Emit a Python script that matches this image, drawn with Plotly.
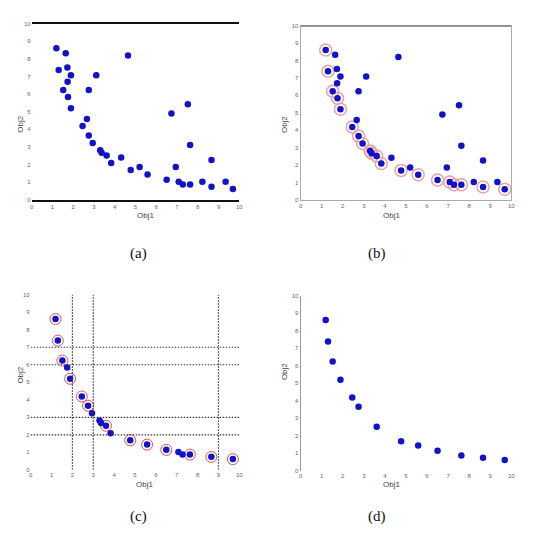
import plotly.graph_objects as go

obj1 = [1.19, 1.64, 1.30, 1.72, 1.89, 1.73, 1.52, 1.75, 1.89, 2.75, 3.11, 4.64, 2.66,
        2.45, 2.75, 2.94, 3.30, 3.37, 3.61, 3.83, 4.31, 4.77, 5.20, 5.58, 6.50, 6.73,
        6.94, 7.08, 7.28, 7.52, 7.63, 7.63, 8.22, 8.66, 8.66, 9.34, 9.69]
obj2 = [8.61, 8.33, 7.38, 7.51, 7.08, 6.70, 6.24, 5.84, 5.20, 6.24, 7.08, 8.20, 4.59,
        4.19, 3.66, 3.23, 2.81, 2.68, 2.52, 2.09, 2.41, 1.69, 1.86, 1.44, 1.14, 4.90,
        1.86, 1.02, 0.87, 5.43, 0.87, 3.11, 1.02, 2.26, 0.74, 1.02, 0.61]

# Non-dominated set (circled in b, plotted in c)
pareto_idx = [0, 2, 6, 7, 8, 13, 14, 15, 16, 17, 18, 19, 21, 23, 24, 27, 28, 30, 34, 36]
# Selected subset (circled in c, plotted in d)
select_idx = [0, 2, 6, 8, 13, 14, 18, 21, 23, 24, 30, 34, 36]

# dotted reference lines in panel (c)
c_vlines = [2, 3, 9]
c_hlines = [7, 6, 3, 2]

ticks = list(range(0, 11))
panel_labels = ["(a)", "(b)", "(c)", "(d)"]

W, H = 539, 545
def px(x):
    return x / W
def py(y):
    return 1 - y / H

fig = go.Figure()

BLUE = "#1212c8"
mk = dict(color=BLUE, size=6.5, line=dict(width=0))

# (a)
fig.add_trace(go.Scatter(x=obj1, y=obj2, mode="markers", marker=mk, xaxis="x", yaxis="y"))
# (b)
px_ = [obj1[i] for i in pareto_idx]
py_ = [obj2[i] for i in pareto_idx]
fig.add_trace(go.Scatter(x=px_, y=py_, mode="markers", xaxis="x2", yaxis="y2",
                         marker=dict(symbol="circle-open", size=12, color="#e7a3a8",
                                     line=dict(width=1.5, color="#e7a3a8"))))
fig.add_trace(go.Scatter(x=obj1, y=obj2, mode="markers", marker=mk, xaxis="x2", yaxis="y2"))
# (c)
sx = [obj1[i] for i in select_idx]
sy = [obj2[i] for i in select_idx]
fig.add_trace(go.Scatter(x=sx, y=sy, mode="markers", xaxis="x3", yaxis="y3",
                         marker=dict(symbol="circle-open", size=11, color="#e05050",
                                     line=dict(width=1, color="#e05050"))))
fig.add_trace(go.Scatter(x=px_, y=py_, mode="markers", marker=mk, xaxis="x3", yaxis="y3"))
# (d)
fig.add_trace(go.Scatter(x=sx, y=sy, mode="markers", marker=mk, xaxis="x4", yaxis="y4"))

tickfont = dict(family="Liberation Sans, Arial", size=6, color="#666666")

def xax(domain, anchor, showline=False, color="#888888", width=1, mirror=False):
    return dict(domain=domain, anchor=anchor, range=[0, 10], tickvals=ticks,
                showgrid=False, zeroline=False, showline=showline, linecolor=color,
                linewidth=width, mirror=mirror, tickfont=tickfont, ticks="",
                ticklen=0)

def yax(domain, anchor, showline=False, color="#888888", width=1, mirror=False):
    return dict(domain=domain, anchor=anchor, range=[0, 10], tickvals=ticks,
                showgrid=False, zeroline=False, showline=showline, linecolor=color,
                linewidth=width, mirror=mirror, tickfont=tickfont, ticks="",
                ticklen=0)

dom_a = ([px(30), px(240)], [py(199), py(21)])
dom_b = ([px(302), px(515)], [py(199), py(23)])
dom_c = ([px(29), px(240)], [py(472), py(295)])
dom_d = ([px(302), px(515)], [py(473), py(296)])

fig.update_layout(
    width=W, height=H, margin=dict(l=0, r=0, t=0, b=0),
    paper_bgcolor="white", plot_bgcolor="white", showlegend=False,
    xaxis=xax(dom_a[0], "y", showline=True, color="#111111", width=2, mirror=True),
    yaxis=yax(dom_a[1], "x"),
    xaxis2=xax(dom_b[0], "y2", showline=True, color="#aaaaaa", mirror=True),
    yaxis2=yax(dom_b[1], "x2", showline=True, color="#aaaaaa", mirror=True),
    xaxis3=xax(dom_c[0], "y3"),
    yaxis3=yax(dom_c[1], "x3"),
    xaxis4=xax(dom_d[0], "y4"),
    yaxis4=yax(dom_d[1], "x4", showline=True, color="#999999"),
)

shapes = []
# black top edge in (b)
shapes.append(dict(type="line", xref="x2", yref="y2", x0=0, x1=10, y0=10, y1=10,
                   line=dict(color="#333333", width=1.5)))
# dotted lines in (c)
for v in c_vlines:
    shapes.append(dict(type="line", xref="x3", yref="y3", x0=v, x1=v, y0=0, y1=10,
                       line=dict(color="#333333", width=1.2, dash="1.5px,1.5px")))
for h in c_hlines:
    shapes.append(dict(type="line", xref="x3", yref="y3", x0=0, x1=10, y0=h, y1=h,
                       line=dict(color="#333333", width=1.2, dash="1.5px,1.5px")))
fig.update_layout(shapes=shapes)

afont = dict(family="Liberation Sans, Arial", size=8, color="#444444")
ann = []
# axis titles
for (xc, yc) in [(135, 215), (405, 215), (133, 493), (405, 493)]:
    ann.append(dict(text="Obj1", x=px(xc), y=py(yc), xref="paper", yref="paper",
                    showarrow=False, font=afont))
for (xc, yc) in [(12, 112), (285, 112), (12, 387), (285, 383)]:
    ann.append(dict(text="Obj2", x=px(xc), y=py(yc), xref="paper", yref="paper",
                    showarrow=False, font=afont, textangle=-90))
# panel captions
for lab, (xc, yc) in zip(panel_labels, [(127, 253), (390, 253), (127, 530), (390, 530)]):
    ann.append(dict(text=lab, x=px(xc), y=py(yc), xref="paper", yref="paper",
                    showarrow=False,
                    font=dict(family="Liberation Serif, Times New Roman", size=15,
                              color="#111111")))
fig.update_layout(annotations=ann)

fig.write_html("out.html")
